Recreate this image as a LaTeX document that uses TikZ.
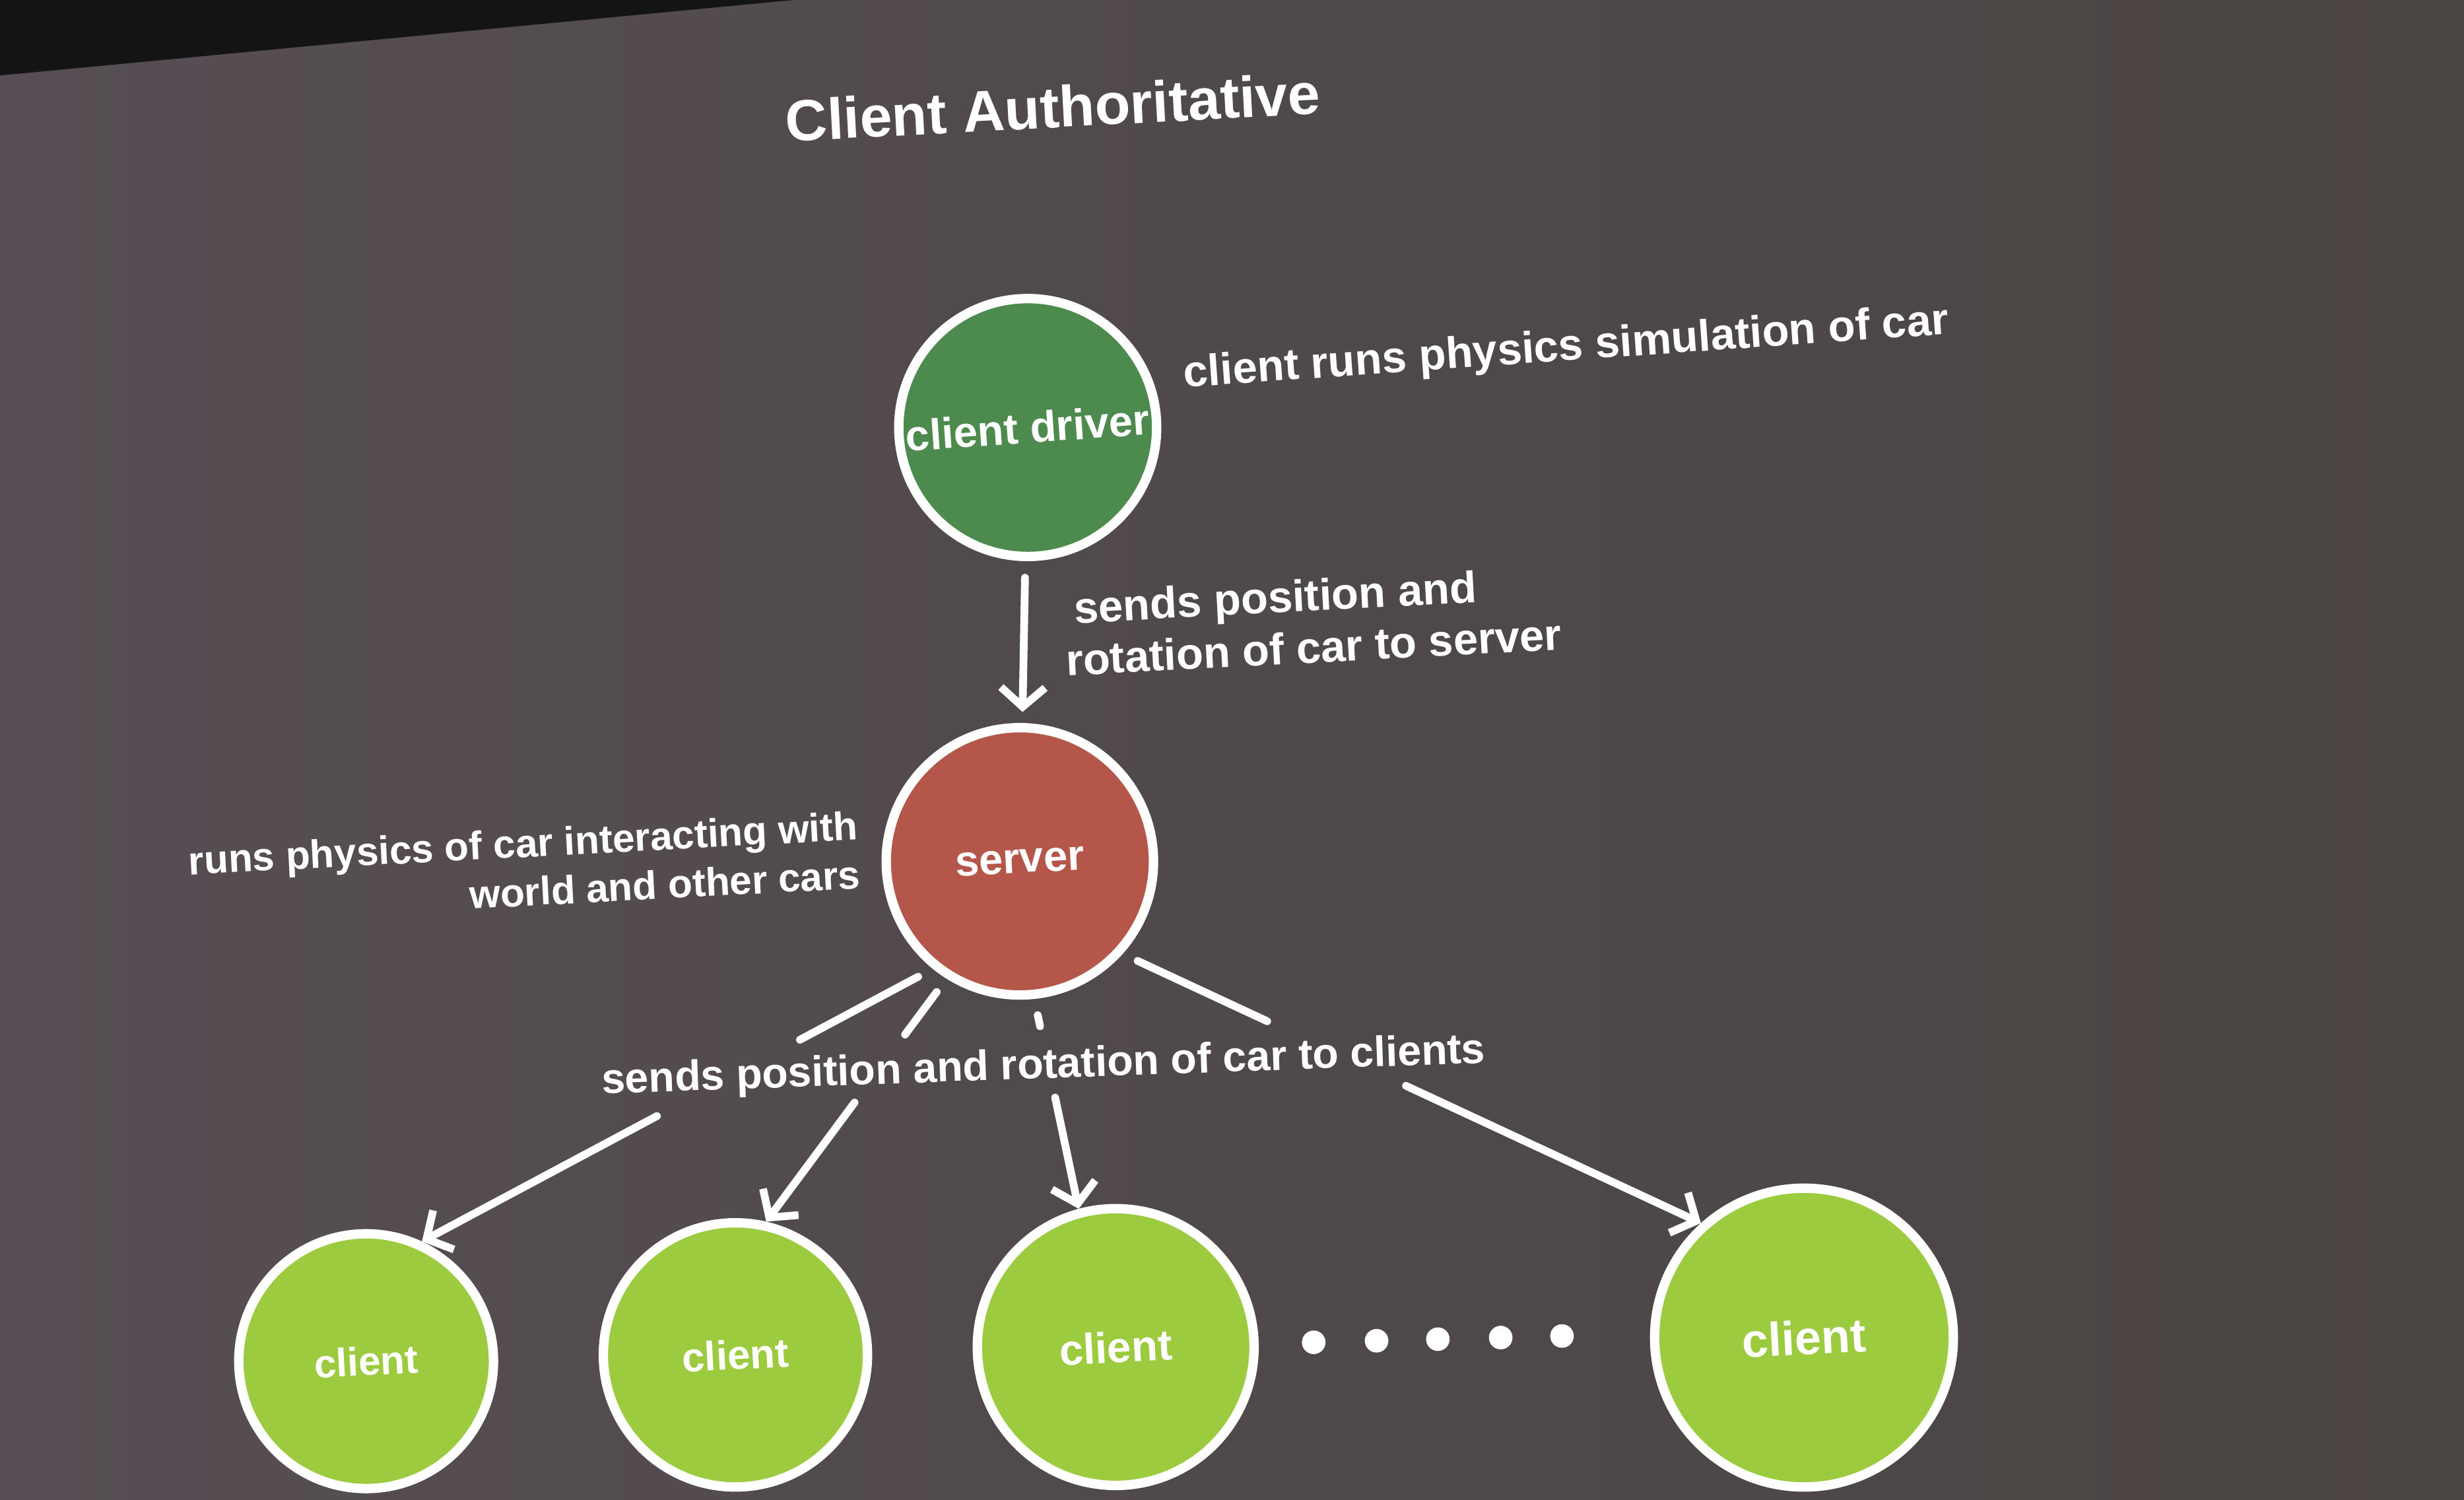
\documentclass[tikz,border=0pt]{standalone}
\usepackage{fontspec}
\setmainfont{Liberation Sans}
\usetikzlibrary{arrows.meta,calc}

\definecolor{bgleft}{HTML}{564E54}
\definecolor{bgright}{HTML}{4A4442}
\definecolor{drivergreen}{HTML}{4C8A4E}
\definecolor{serverred}{HTML}{B4574A}
\definecolor{clientgreen}{HTML}{9CCB3F}

\tikzset{
  peer/.style={circle, draw=white, line width=1.7pt, inner sep=0pt, text=white},
  note/.style={text=white, font=\bfseries\fontsize{8}{9.4}\selectfont},
  link/.style={draw=white, line width=1.4pt, line cap=round,
    -{Straight Barb[length=3.5pt,width=8pt]}},
  bare/.style={draw=white, line width=1.4pt, line cap=round}
}

\begin{document}
\begin{tikzpicture}[x=0.01cm,y=-0.01cm]
% slide background and the dark screen edge
\shade[left color=bgleft, right color=bgright] (0,0) rectangle (1568,954);
\fill[black!92] (0,0) -- (505,0) -- (0,48) -- cycle;
\useasboundingbox (0,0) rectangle (1568,954);

% Title
\node[note, font=\bfseries\fontsize{10.5}{12}\selectfont, rotate=3] (title) at (670,68) {Client Authoritative};

% Driver and server
\node[peer, fill=drivergreen, minimum size=1.64cm, font=\bfseries\fontsize{7.8}{9}\selectfont] (driver) at (654,272) {\rotatebox{4}{client driver}};
\node[peer, fill=serverred, minimum size=1.7cm, font=\bfseries\fontsize{7.8}{9}\selectfont] (server) at (649,548) {\rotatebox{3}{server}};

% Clients
\node[peer, fill=clientgreen, minimum size=1.62cm, font=\bfseries\fontsize{7.2}{9}\selectfont] (c1) at (233,866) {\rotatebox{3}{client}};
\node[peer, fill=clientgreen, minimum size=1.68cm, font=\bfseries\fontsize{7.4}{9}\selectfont] (c2) at (468,862) {\rotatebox{3}{client}};
\node[peer, fill=clientgreen, minimum size=1.76cm, font=\bfseries\fontsize{7.8}{9}\selectfont] (c3) at (710,857) {\rotatebox{3}{client}};
\node[peer, fill=clientgreen, minimum size=1.9cm, font=\bfseries\fontsize{8.6}{9}\selectfont] (c4) at (1148,851) {\rotatebox{3}{client}};

% the dots between the clients
\foreach \x/\y in {836/854, 876/853, 915/852, 955/851, 994/850}
  \fill[white] (\x,\y) circle[radius=0.075cm];

% Notes
\node[note, rotate=4, anchor=west] (simnote) at (741,240) {client runs physics simulation of car};
\node[note, rotate=3, anchor=west, align=left] (sendnote) at (665,404) {\hspace*{0.7mm}sends position and\\rotation of car to server};
\node[note, font=\bfseries\fontsize{7.2}{8.8}\selectfont, rotate=3, anchor=east, align=right] (physnote) at (559,540) {runs physics of car interacting with\\world and other cars};
\node[note, font=\bfseries\fontsize{7.7}{9}\selectfont, rotate=2] (fanout) at (664,679) {sends position and rotation of car to clients};

% Connectors
\draw[link, shorten <=3pt, shorten >=2pt] (driver) -- (server);

% fan-out to the clients, broken where the label sits
\foreach \s/\c/\e/\ta/\tb in {231/c1/65/0.26/0.54, 238/c2/77/0.23/0.51,
                              276/c3/105/0.13/0.47, 318/c4/132/0.25/0.49}{
  \coordinate (gapA-\c) at ($(server.\s)!\ta!(\c.\e)$);
  \coordinate (gapB-\c) at ($(server.\s)!\tb!(\c.\e)$);
  \draw[bare, shorten <=3pt] (server.\s) -- (gapA-\c);
  \draw[link] (gapB-\c) -- (\c.\e);
}
\end{tikzpicture}
\end{document}
